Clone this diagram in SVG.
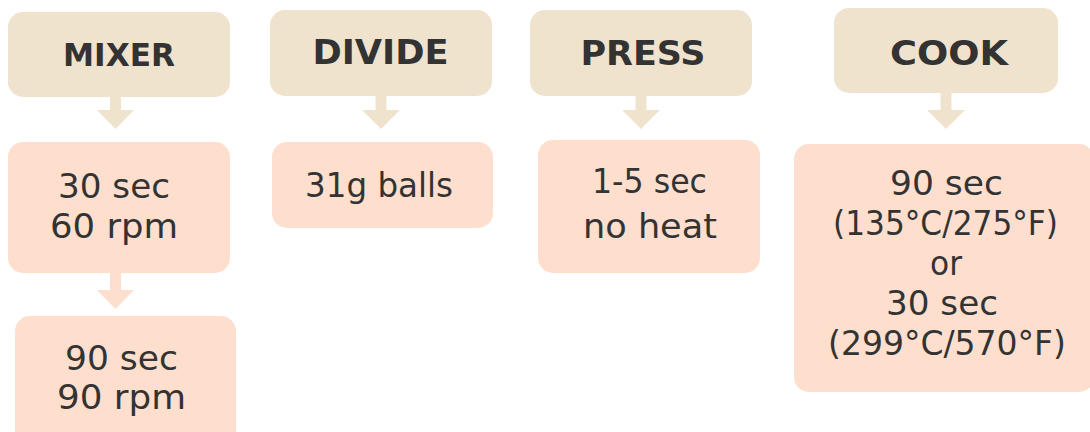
<svg xmlns="http://www.w3.org/2000/svg" width="1090" height="432" viewBox="0 0 1090 432">
<style>
.hd{fill:#F0E3CD}
.bd{fill:#FEDFCE}
.ha{fill:#F0E3CD}
.ba{fill:#FEDFCE}
.ht{font-family:"DejaVu Sans",sans-serif;font-weight:bold;font-size:32px;fill:#333333;text-anchor:middle}
.bt{font-family:"DejaVu Sans",sans-serif;font-size:33px;fill:#333333;text-anchor:middle}
</style>
<rect width="1090" height="432" fill="#FFFFFF"/>
<g id="connectors">
<polygon class="ha" points="110,97 121,97 121,110 134,110 115.5,129 97,110 110,110"/>
<polygon class="ba" points="110,273 121,273 121,290 134,290 115.5,309 97,290 110,290"/>
<polygon class="ha" points="375.5,96 386.5,96 386.5,110 400,110 381,129 362,110 375.5,110"/>
<polygon class="ha" points="635.5,96 646.5,96 646.5,110 660,110 641,129 622,110 635.5,110"/>
<polygon class="ha" points="940.5,93 951.5,93 951.5,110 965,110 946,129 927,110 940.5,110"/>
</g>
<g id="mixer">
<rect class="hd" x="8" y="12" width="222" height="85" rx="15"/>
<text class="ht" x="119" y="66" textLength="112" lengthAdjust="spacingAndGlyphs">MIXER</text>
</g>
<g id="mixer-step1">
<rect class="bd" x="8" y="142" width="222" height="131" rx="15"/>
<text class="bt" x="114" y="197.5" textLength="112" lengthAdjust="spacingAndGlyphs">30 sec</text>
<text class="bt" x="114" y="238" textLength="128" lengthAdjust="spacingAndGlyphs">60 rpm</text>
</g>
<g id="mixer-step2">
<rect class="bd" x="15" y="316" width="221" height="140" rx="15"/>
<text class="bt" x="121.5" y="370" textLength="113" lengthAdjust="spacingAndGlyphs">90 sec</text>
<text class="bt" x="121.5" y="409" textLength="129" lengthAdjust="spacingAndGlyphs">90 rpm</text>
</g>
<g id="divide">
<rect class="hd" x="270" y="10" width="222" height="86" rx="15"/>
<text class="ht" x="380.5" y="63.5" style="font-size:34px" textLength="136" lengthAdjust="spacingAndGlyphs">DIVIDE</text>
</g>
<g id="divide-step">
<rect class="bd" x="272" y="142" width="221" height="86" rx="15"/>
<text class="bt" x="379" y="197" textLength="148" lengthAdjust="spacingAndGlyphs">31g balls</text>
</g>
<g id="press">
<rect class="hd" x="530" y="10" width="222" height="86" rx="15"/>
<text class="ht" x="643" y="64.5" style="font-size:34.5px" textLength="125" lengthAdjust="spacingAndGlyphs">PRESS</text>
</g>
<g id="press-step">
<rect class="bd" x="538" y="140" width="222" height="133" rx="15"/>
<text class="bt" x="649.5" y="193" textLength="115" lengthAdjust="spacingAndGlyphs">1-5 sec</text>
<text class="bt" x="650" y="238" textLength="134" lengthAdjust="spacingAndGlyphs">no heat</text>
</g>
<g id="cook">
<rect class="hd" x="834" y="8" width="224" height="85" rx="15"/>
<text class="ht" x="949" y="64.5" style="font-size:33px" textLength="118" lengthAdjust="spacingAndGlyphs">COOK</text>
</g>
<g id="cook-step">
<rect class="bd" x="794" y="144" width="300" height="248" rx="15"/>
<text class="bt" x="946.5" y="195" textLength="113" lengthAdjust="spacingAndGlyphs">90 sec</text>
<text class="bt" x="945.5" y="235" textLength="225" lengthAdjust="spacingAndGlyphs">(135°C/275°F)</text>
<text class="bt" x="946" y="275" textLength="32" lengthAdjust="spacingAndGlyphs">or</text>
<text class="bt" x="942" y="315" textLength="112" lengthAdjust="spacingAndGlyphs">30 sec</text>
<text class="bt" x="947" y="355" textLength="238" lengthAdjust="spacingAndGlyphs">(299°C/570°F)</text>
</g>
</svg>
